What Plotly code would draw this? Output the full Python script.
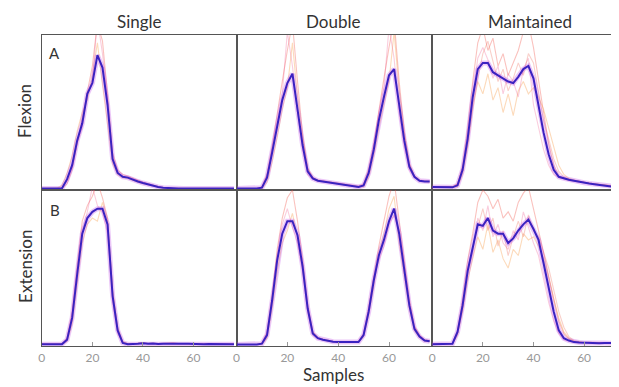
import plotly.graph_objects as go

# ---------------- data (samples every 2) ----------------
samples = list(range(0, 78, 2))

col_titles = ["Single", "Double", "Maintained"]
row_titles = ["Flexion", "Extension"]
panel_letters = ["A", "B"]
tick_vals = [0, 20, 40, 60]

flex_single_mean = [0.01, 0.01, 0.01, 0.01, 0.012, 0.07, 0.16, 0.32, 0.43, 0.62, 0.69, 0.87, 0.79, 0.55, 0.2, 0.11, 0.085, 0.08, 0.065, 0.055,
                    0.045, 0.035, 0.028, 0.02, 0.015, 0.012, 0.01, 0.01, 0.01, 0.01, 0.01, 0.01, 0.01, 0.01, 0.01, 0.01, 0.01, 0.01, 0.01]
flex_single_trials = [
    [0.01, 0.01, 0.01, 0.01, 0.01, 0.04, 0.13, 0.3, 0.46, 0.64, 0.8, 1.08, 0.96, 0.62, 0.24, 0.13, 0.1, 0.09, 0.075, 0.06,
     0.05, 0.04, 0.03, 0.022, 0.016, 0.012, 0.01, 0.01, 0.01, 0.01, 0.01, 0.01, 0.01, 0.01, 0.01, 0.01, 0.01, 0.01, 0.01],
    [0.01, 0.01, 0.01, 0.012, 0.03, 0.11, 0.22, 0.38, 0.5, 0.58, 0.74, 0.95, 0.68, 0.44, 0.17, 0.1, 0.08, 0.075, 0.06, 0.05,
     0.04, 0.032, 0.026, 0.02, 0.014, 0.012, 0.01, 0.01, 0.01, 0.01, 0.01, 0.01, 0.01, 0.01, 0.01, 0.01, 0.01, 0.01, 0.01],
    [0.01, 0.01, 0.01, 0.01, 0.015, 0.06, 0.15, 0.3, 0.4, 0.63, 0.7, 1.1, 0.88, 0.58, 0.21, 0.12, 0.09, 0.085, 0.07, 0.06,
     0.05, 0.038, 0.03, 0.022, 0.016, 0.012, 0.01, 0.01, 0.01, 0.01, 0.01, 0.01, 0.01, 0.01, 0.01, 0.01, 0.01, 0.01, 0.01],
]

flex_double_mean = [0.01, 0.01, 0.01, 0.01, 0.01, 0.015, 0.08, 0.24, 0.42, 0.58, 0.69, 0.75, 0.52, 0.29, 0.12, 0.075, 0.06, 0.055, 0.05, 0.045,
                    0.04, 0.035, 0.03, 0.025, 0.02, 0.03, 0.11, 0.26, 0.45, 0.6, 0.74, 0.78, 0.55, 0.32, 0.15, 0.085, 0.06, 0.055, 0.055]
flex_double_trials = [
    [0.01, 0.01, 0.01, 0.01, 0.01, 0.02, 0.1, 0.28, 0.5, 0.7, 0.9, 1.08, 0.7, 0.36, 0.14, 0.08, 0.065, 0.06, 0.055, 0.05,
     0.045, 0.04, 0.035, 0.03, 0.025, 0.04, 0.14, 0.3, 0.52, 0.72, 0.92, 1.1, 0.7, 0.38, 0.17, 0.09, 0.065, 0.06, 0.06],
    [0.01, 0.01, 0.01, 0.01, 0.01, 0.01, 0.05, 0.18, 0.34, 0.52, 0.66, 0.95, 0.6, 0.34, 0.14, 0.08, 0.062, 0.056, 0.05, 0.045,
     0.04, 0.035, 0.03, 0.025, 0.02, 0.02, 0.08, 0.22, 0.4, 0.55, 0.7, 1.02, 0.64, 0.36, 0.17, 0.09, 0.06, 0.055, 0.05],
    [0.01, 0.01, 0.01, 0.01, 0.01, 0.02, 0.1, 0.27, 0.44, 0.62, 1.02, 0.8, 0.5, 0.26, 0.1, 0.07, 0.058, 0.054, 0.05, 0.045,
     0.04, 0.035, 0.03, 0.025, 0.02, 0.03, 0.12, 0.28, 0.5, 0.66, 1.05, 0.85, 0.5, 0.28, 0.13, 0.08, 0.06, 0.055, 0.055],
]

flex_maint_mean = [0.02, 0.02, 0.018, 0.017, 0.017, 0.03, 0.13, 0.33, 0.6, 0.78, 0.82, 0.82, 0.76, 0.74, 0.72, 0.7, 0.69, 0.73, 0.78, 0.8,
                   0.72, 0.55, 0.37, 0.23, 0.13, 0.085, 0.075, 0.066, 0.06, 0.053, 0.047, 0.042, 0.037, 0.032, 0.028, 0.024, 0.02, 0.02, 0.02]
flex_maint_trials = [
    [0.02, 0.02, 0.02, 0.02, 0.02, 0.04, 0.16, 0.4, 0.7, 0.95, 1.05, 0.9, 0.98, 0.8, 0.88, 0.74, 0.82, 0.9, 1.02, 1.08,
     0.92, 0.7, 0.5, 0.3, 0.16, 0.09, 0.075, 0.066, 0.06, 0.055, 0.05, 0.045, 0.04, 0.035, 0.03, 0.025, 0.022, 0.02, 0.02],
    [0.02, 0.02, 0.02, 0.02, 0.02, 0.02, 0.1, 0.28, 0.52, 0.7, 0.62, 0.75, 0.58, 0.66, 0.5, 0.62, 0.48, 0.64, 0.7, 0.62,
     0.66, 0.6, 0.52, 0.4, 0.28, 0.16, 0.1, 0.075, 0.065, 0.056, 0.05, 0.045, 0.04, 0.035, 0.03, 0.026, 0.022, 0.02, 0.02],
    [0.02, 0.02, 0.02, 0.02, 0.02, 0.03, 0.12, 0.35, 0.62, 0.85, 0.92, 0.84, 0.72, 0.8, 0.62, 0.75, 0.7, 0.6, 0.78, 0.85,
     0.55, 0.4, 0.26, 0.16, 0.1, 0.08, 0.07, 0.062, 0.056, 0.05, 0.045, 0.04, 0.036, 0.032, 0.028, 0.024, 0.02, 0.02, 0.02],
    [0.02, 0.02, 0.02, 0.02, 0.02, 0.04, 0.14, 0.3, 0.55, 0.72, 0.88, 0.96, 0.82, 0.7, 0.78, 0.64, 0.72, 0.82, 0.74, 0.88,
     0.82, 0.62, 0.45, 0.33, 0.2, 0.12, 0.085, 0.07, 0.062, 0.055, 0.05, 0.044, 0.04, 0.035, 0.03, 0.026, 0.022, 0.02, 0.02],
]

ext_single_mean = [0.012, 0.012, 0.012, 0.012, 0.012, 0.04, 0.18, 0.46, 0.72, 0.82, 0.86, 0.88, 0.88, 0.78, 0.32, 0.1, 0.02, 0.012, 0.012, 0.015,
                   0.018, 0.014, 0.016, 0.013, 0.015, 0.014, 0.016, 0.013, 0.014, 0.015, 0.013, 0.014, 0.012, 0.013, 0.012, 0.012, 0.012, 0.012, 0.012]
ext_single_trials = [
    [0.012, 0.012, 0.012, 0.012, 0.012, 0.05, 0.22, 0.52, 0.8, 0.9, 0.96, 1.05, 0.95, 0.82, 0.35, 0.11, 0.025, 0.015, 0.014, 0.018,
     0.022, 0.016, 0.018, 0.015, 0.017, 0.016, 0.02, 0.015, 0.016, 0.018, 0.015, 0.016, 0.014, 0.015, 0.014, 0.014, 0.013, 0.013, 0.013],
    [0.012, 0.012, 0.012, 0.012, 0.012, 0.03, 0.14, 0.4, 0.66, 0.78, 0.82, 0.8, 0.92, 0.8, 0.36, 0.12, 0.03, 0.015, 0.013, 0.016,
     0.02, 0.015, 0.017, 0.014, 0.016, 0.015, 0.018, 0.014, 0.015, 0.016, 0.014, 0.015, 0.013, 0.014, 0.013, 0.013, 0.012, 0.012, 0.012],
    [0.012, 0.012, 0.012, 0.012, 0.012, 0.05, 0.2, 0.48, 0.74, 0.86, 1.02, 0.9, 0.86, 0.72, 0.28, 0.08, 0.02, 0.013, 0.012, 0.015,
     0.018, 0.014, 0.016, 0.013, 0.015, 0.014, 0.016, 0.013, 0.014, 0.015, 0.013, 0.014, 0.012, 0.013, 0.012, 0.012, 0.012, 0.012, 0.012],
]

ext_double_mean = [0.01, 0.01, 0.01, 0.01, 0.01, 0.015, 0.07, 0.29, 0.55, 0.72, 0.8, 0.8, 0.71, 0.51, 0.24, 0.08, 0.05, 0.04, 0.032, 0.027,
                   0.025, 0.025, 0.024, 0.024, 0.025, 0.07, 0.22, 0.42, 0.58, 0.68, 0.8, 0.88, 0.72, 0.49, 0.26, 0.11, 0.06, 0.035, 0.03]
ext_double_trials = [
    [0.01, 0.01, 0.01, 0.01, 0.01, 0.02, 0.09, 0.33, 0.62, 0.82, 0.95, 1.0, 0.8, 0.56, 0.27, 0.09, 0.055, 0.045, 0.035, 0.03,
     0.028, 0.027, 0.026, 0.026, 0.03, 0.08, 0.25, 0.46, 0.64, 0.8, 0.96, 1.06, 0.82, 0.55, 0.3, 0.13, 0.07, 0.04, 0.035],
    [0.01, 0.01, 0.01, 0.01, 0.01, 0.01, 0.05, 0.24, 0.48, 0.66, 0.74, 0.85, 0.7, 0.5, 0.24, 0.09, 0.05, 0.04, 0.032, 0.028,
     0.026, 0.025, 0.024, 0.024, 0.026, 0.06, 0.2, 0.38, 0.6, 0.72, 0.88, 0.96, 0.66, 0.46, 0.24, 0.1, 0.055, 0.03, 0.028],
    [0.01, 0.01, 0.01, 0.01, 0.01, 0.015, 0.08, 0.3, 0.58, 0.78, 0.88, 0.76, 0.66, 0.48, 0.22, 0.07, 0.045, 0.038, 0.03, 0.026,
     0.024, 0.024, 0.023, 0.023, 0.025, 0.07, 0.24, 0.44, 0.55, 0.64, 0.78, 0.84, 0.74, 0.52, 0.28, 0.12, 0.065, 0.035, 0.03],
]

ext_maint_mean = [0.012, 0.012, 0.012, 0.012, 0.015, 0.09, 0.26, 0.48, 0.62, 0.78, 0.77, 0.82, 0.74, 0.72, 0.72, 0.66, 0.69, 0.74, 0.78, 0.81,
                  0.75, 0.68, 0.53, 0.37, 0.22, 0.1, 0.05, 0.035, 0.025, 0.022, 0.02, 0.022, 0.02, 0.018, 0.02, 0.018, 0.02, 0.02, 0.02]
ext_maint_trials = [
    [0.012, 0.012, 0.012, 0.012, 0.015, 0.1, 0.3, 0.55, 0.72, 0.92, 1.0, 0.96, 0.88, 0.94, 0.82, 0.86, 0.8, 0.92, 0.98, 1.02,
     0.88, 0.76, 0.6, 0.45, 0.3, 0.16, 0.08, 0.045, 0.03, 0.025, 0.022, 0.024, 0.022, 0.02, 0.022, 0.02, 0.021, 0.02, 0.02],
    [0.012, 0.012, 0.012, 0.012, 0.014, 0.08, 0.22, 0.42, 0.56, 0.7, 0.62, 0.78, 0.6, 0.68, 0.56, 0.5, 0.62, 0.58, 0.72, 0.68,
     0.7, 0.64, 0.56, 0.44, 0.3, 0.18, 0.09, 0.05, 0.03, 0.024, 0.021, 0.022, 0.02, 0.019, 0.02, 0.019, 0.02, 0.02, 0.02],
    [0.012, 0.012, 0.012, 0.012, 0.016, 0.09, 0.26, 0.46, 0.6, 0.82, 0.74, 0.9, 0.7, 0.78, 0.66, 0.62, 0.74, 0.68, 0.86, 0.76,
     0.66, 0.58, 0.42, 0.28, 0.16, 0.08, 0.04, 0.03, 0.024, 0.021, 0.02, 0.021, 0.019, 0.018, 0.019, 0.018, 0.019, 0.019, 0.019],
    [0.012, 0.012, 0.012, 0.012, 0.014, 0.07, 0.24, 0.5, 0.64, 0.76, 0.88, 0.74, 0.82, 0.64, 0.74, 0.58, 0.7, 0.8, 0.7, 0.84,
     0.74, 0.7, 0.6, 0.5, 0.36, 0.22, 0.12, 0.06, 0.035, 0.026, 0.022, 0.023, 0.021, 0.02, 0.021, 0.02, 0.02, 0.02, 0.02],
]

panels = [
    (flex_single_mean, flex_single_trials), (flex_double_mean, flex_double_trials), (flex_maint_mean, flex_maint_trials),
    (ext_single_mean, ext_single_trials), (ext_double_mean, ext_double_trials), (ext_maint_mean, ext_maint_trials),
]
for m, ts in panels:
    assert len(m) == len(samples), len(m)
    for t in ts:
        assert len(t) == len(samples), len(t)

# ---------------- styling ----------------
# The page body has an 8px default margin, so the figure is drawn 8px in
# from the window's top-left; all pixel positions below are window pixels.
OFF = 8
W, H = 619 - OFF, 387 - OFF
FONT = "Lato"


def px_x(p):
    return (p - OFF) / W


def px_y(p):
    return 1 - (p - OFF) / H


trial_colors = ["rgba(240,80,70,0.35)", "rgba(245,150,60,0.35)", "rgba(240,100,150,0.32)", "rgba(235,110,90,0.32)"]
mean_color = "#3b22c0"
halo_color = "rgba(190,70,230,0.30)"
frame = "#555555"

col_px = [(39, 235), (235, 432), (432, 619)]
row_px = [(35, 190), (190, 346)]
x_ranges = [[0, 77], [0, 77], [0, 73.4]]

fig = go.Figure()

for i, (mean, trials) in enumerate(panels):
    ax = "" if i == 0 else str(i + 1)
    for k, t in enumerate(trials):
        fig.add_trace(go.Scatter(x=samples, y=t, mode="lines", xaxis="x" + ax, yaxis="y" + ax,
                                 line=dict(color=trial_colors[k % len(trial_colors)], width=1.1),
                                 hoverinfo="skip", showlegend=False))
    fig.add_trace(go.Scatter(x=samples, y=mean, mode="lines", xaxis="x" + ax, yaxis="y" + ax,
                             line=dict(color=halo_color, width=5), hoverinfo="skip", showlegend=False))
    fig.add_trace(go.Scatter(x=samples, y=mean, mode="lines", xaxis="x" + ax, yaxis="y" + ax,
                             line=dict(color=mean_color, width=2), showlegend=False))

layout = dict(width=W, height=H, margin=dict(l=0, r=0, t=0, b=0),
              paper_bgcolor="white", plot_bgcolor="white",
              font=dict(family=FONT, color="#333"))

for i in range(6):
    r, c = divmod(i, 3)
    ax = "" if i == 0 else str(i + 1)
    x0, x1 = col_px[c]
    y0, y1 = row_px[r]
    bottom = (r == 1)
    layout["xaxis" + ax] = dict(
        domain=[px_x(x0), min(1.0, px_x(x1))], range=x_ranges[c], anchor="y" + ax,
        showline=True, mirror=True, linecolor=frame, linewidth=1.2,
        showgrid=False, zeroline=False,
        tickvals=tick_vals, showticklabels=bottom,
        ticks="inside" if bottom else "", ticklen=4, tickcolor="#999",
        tickfont=dict(size=12, color="#999", family=FONT),
    )
    layout["yaxis" + ax] = dict(
        domain=[px_y(y1), px_y(y0)], range=[0, 1.0], anchor="x" + ax,
        showline=True, mirror=True, linecolor=frame, linewidth=1.2,
        showgrid=False, zeroline=False, showticklabels=False, ticks="",
    )


def label(text, x, y, size, angle=0):
    return dict(text=text, x=px_x(x), y=px_y(y), xref="paper", yref="paper",
                xanchor="center", yanchor="middle", textangle=angle,
                showarrow=False, font=dict(size=size, color="#333", family=FONT))


ann = []
title_x = [137, 332, 530]
for c, t in enumerate(col_titles):
    ann.append(label(t, title_x[c], 21, 17))
row_y = [111, 266]
for r, t in enumerate(row_titles):
    ann.append(label(t, 22, row_y[r], 17, -90))
letter_y = [53, 210]
for r, t in enumerate(panel_letters):
    ann.append(label(t, 52, letter_y[r], 15))
ann.append(label("Samples", 333, 374, 17))
layout["annotations"] = ann

fig.update_layout(**layout)
fig.write_html("out.html")
